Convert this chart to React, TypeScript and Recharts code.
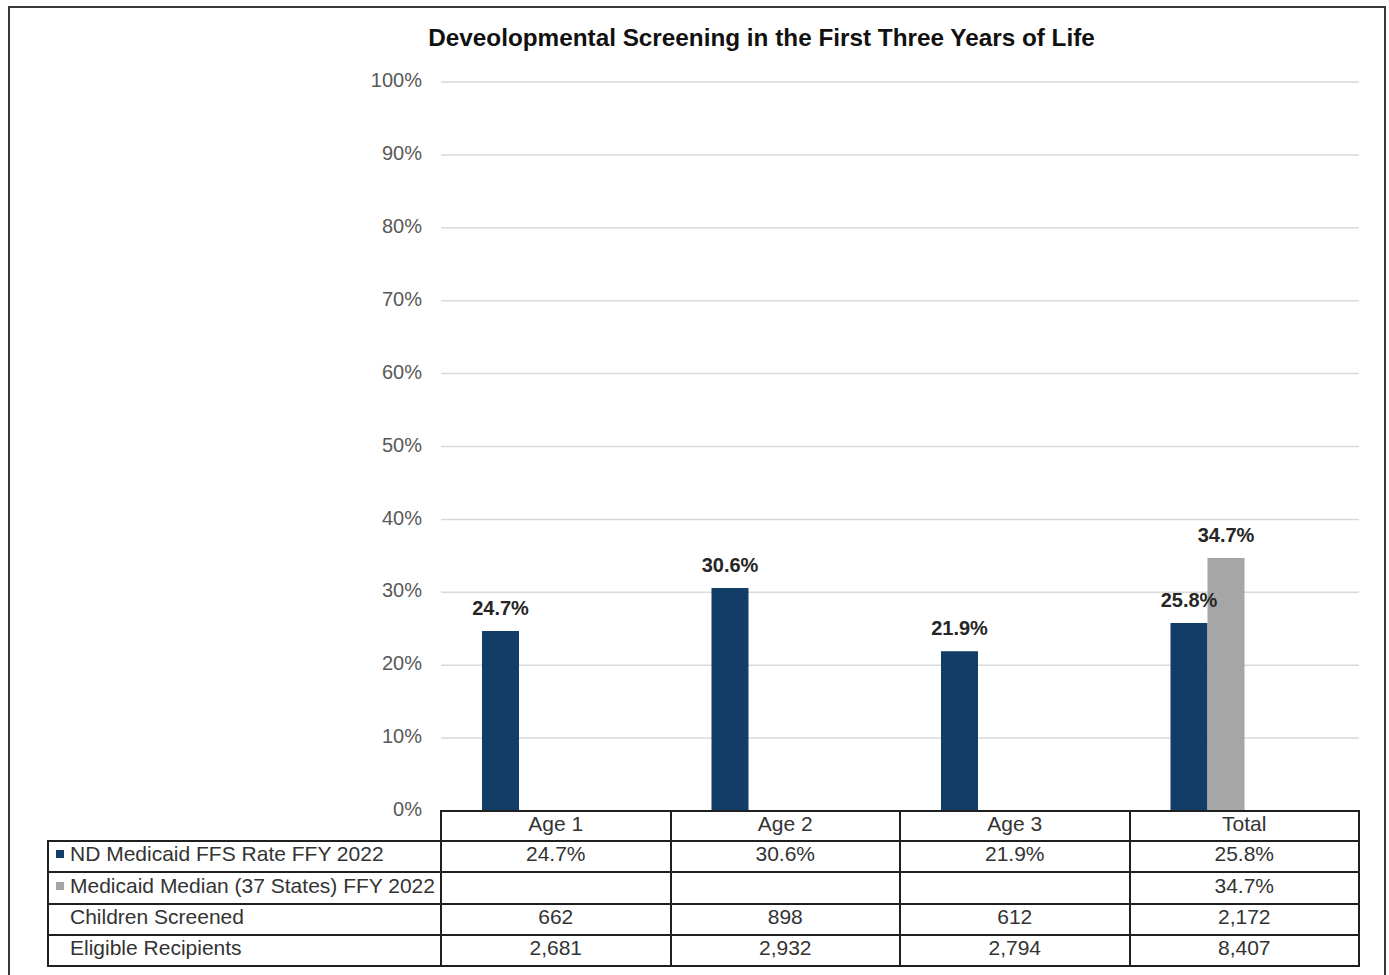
import { BarChart, Bar, XAxis, YAxis, CartesianGrid, LabelList } from "recharts"

const categories = ["Age 1", "Age 2", "Age 3", "Total"]
const ndRate = [24.7, 30.6, 21.9, 25.8]
const medianRate: (number | null)[] = [null, null, null, 34.7]
const childrenScreened = [662, 898, 612, 2172]
const eligibleRecipients = [2681, 2932, 2794, 8407]
const yTicks = [0, 10, 20, 30, 40, 50, 60, 70, 80, 90, 100]

const NAVY = "#113d66"
const GRAY = "#a6a6a6"
const FONT = '"Liberation Sans", Arial, sans-serif'

const data = categories.map((name, i) => ({
  name,
  nd: ndRate[i],
  median: medianRate[i],
  screened: childrenScreened[i],
  eligible: eligibleRecipients[i],
}))

const pct = (v: number | null) => (v == null ? "" : `${v.toFixed(1)}%`)
const num = (v: number) => v.toLocaleString("en-US")

const tableRows = [
  { label: "ND Medicaid FFS Rate FFY 2022", color: NAVY, cells: ndRate.map(pct) },
  { label: "Medicaid Median (37 States) FFY 2022", color: GRAY, cells: medianRate.map(pct) },
  { label: "Children Screened", color: null, cells: childrenScreened.map(num) },
  { label: "Eligible Recipients", color: null, cells: eligibleRecipients.map(num) },
]

// table grid edges (px), lined up with the plot area
const colX = [48, 441, 670.5, 900, 1129.5, 1359]
const rowY = [811, 841, 872, 904, 935, 966]

function Cell({ x0, x1, y0, y1, children, align = "center" }: any) {
  return (
    <div style={{
      position: "absolute",
      left: x0 - 1,
      top: y0 - 1,
      width: x1 - x0 + 2,
      height: y1 - y0 + 2,
      boxSizing: "border-box",
      border: "2px solid #1f1f1f",
      display: "flex",
      alignItems: "center",
      justifyContent: align === "left" ? "flex-start" : "center",
      paddingLeft: align === "left" ? 7 : 0,
      paddingBottom: 5,
      fontSize: 21,
      color: "#333",
      whiteSpace: "nowrap",
      overflow: "hidden",
    }}>
      {children}
    </div>
  )
}

function DataTable() {
  return (
    <>
      {categories.map((c, j) => (
        <Cell key={c} x0={colX[j + 1]} x1={colX[j + 2]} y0={rowY[0]} y1={rowY[1]}>{c}</Cell>
      ))}
      {tableRows.map((r, i) => (
        <div key={r.label}>
          <Cell x0={colX[0]} x1={colX[1]} y0={rowY[i + 1]} y1={rowY[i + 2]} align="left">
            <span style={{ display: "inline-block", width: 8, height: 8, marginRight: 6, background: r.color ?? "transparent" }} />
            {r.label}
          </Cell>
          {r.cells.map((v, j) => (
            <Cell key={j} x0={colX[j + 1]} x1={colX[j + 2]} y0={rowY[i + 1]} y1={rowY[i + 2]}>{v}</Cell>
          ))}
        </div>
      ))}
    </>
  )
}

export default function App() {
  return (
    <div style={{ position: "absolute", left: 0, top: 0, width: 1389, height: 975, overflow: "hidden", background: "#fff", fontFamily: FONT }}>
      {/* outer frame, bottom edge falls outside the picture */}
      <div style={{ position: "absolute", left: 8, top: 6, width: 1378, height: 1000, boxSizing: "border-box", border: "2px solid #3a3a3a" }} />

      <div style={{ position: "absolute", left: 0, top: 26, width: 1523, textAlign: "center", fontSize: 24.3, lineHeight: "24px", fontWeight: 700, color: "#111" }}>
        Deveolopmental Screening in the First Three Years of Life
      </div>

      <div style={{ position: "absolute", left: 0, top: 0 }}>
        <BarChart
          width={1389}
          height={830}
          data={data}
          margin={{ top: 82, right: 30, bottom: 19, left: 0 }}
          barCategoryGap={41}
          barGap={0}
        >
          <CartesianGrid vertical={false} stroke="#d9d9d9" strokeWidth={1.5} />
          <XAxis dataKey="name" hide />
          <YAxis
            width={441}
            domain={[0, 100]}
            ticks={yTicks}
            tickFormatter={(v) => `${v}%`}
            axisLine={false}
            tickLine={false}
            tickMargin={13}
            tick={{ fontSize: 20, fill: "#595959", fontFamily: FONT, dy: -2 }}
          />
          <YAxis yAxisId="count" orientation="right" hide domain={[0, 10000]} />
          <Bar dataKey="nd" fill={NAVY} isAnimationActive={false}>
            <LabelList dataKey="nd" position="top" offset={16} formatter={(v: any) => pct(v)}
              style={{ fontSize: 20, fontWeight: 700, fill: "#262626", fontFamily: FONT }} />
          </Bar>
          <Bar dataKey="median" fill={GRAY} isAnimationActive={false}>
            <LabelList dataKey="median" position="top" offset={16} formatter={(v: any) => pct(v)}
              style={{ fontSize: 20, fontWeight: 700, fill: "#262626", fontFamily: FONT }} />
          </Bar>
          {/* count series share the category slots but carry no fill, as in the source */}
          <Bar dataKey="screened" yAxisId="count" fill="none" isAnimationActive={false} />
          <Bar dataKey="eligible" yAxisId="count" fill="none" isAnimationActive={false} />
        </BarChart>
      </div>

      <DataTable />
    </div>
  )
}
